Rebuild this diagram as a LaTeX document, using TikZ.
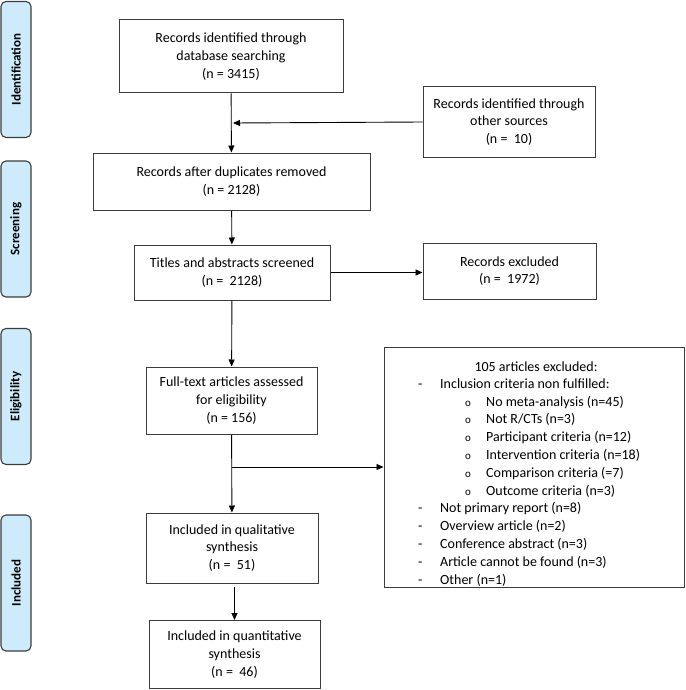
\documentclass[tikz,border=0pt]{standalone}
\usepackage{fontspec}
\setmainfont{Carlito}
\usetikzlibrary{arrows.meta}
\definecolor{stagefill}{HTML}{CDEBFB}
\definecolor{boxline}{HTML}{3C3C3C}
\begin{document}
\begin{tikzpicture}[x=1pt,y=-1pt,
    flowbox/.style={draw=boxline,line width=1pt,align=center,inner sep=0pt,
      font=\fontsize{14}{17.7}\selectfont},
    stagebar/.style={draw=boxline,fill=stagefill,line width=1.1pt,rounded corners=5pt,
      minimum width=136pt,minimum height=30pt,rotate=90,
      font=\fontsize{13}{15}\selectfont\bfseries},
    flowarrow/.style={line width=0.9pt,-{Triangle[length=7pt,width=6pt]}}]
  \useasboundingbox (0,0) rectangle (685,690);
  {
  % Marking the stages by bars
  \node [stagebar] (ident) at (16,69.5) {Identification};%
  \node [stagebar] (screen) at (16,229) {Screening};%
  \node [stagebar] (elig) at (16,396.5) {Eligibility};%
  \node [stagebar] (incl) at (16,583) {Included};%

  % Marking box database
  \node [flowbox,minimum width=224pt,minimum height=73pt] (dbase) at (231,56.5)
    {Records identified through\\database searching\\(n = 3415)};%

  % Marking box other sources
  \node [flowbox,minimum width=172pt,minimum height=70pt] (other) at (509,122)
    {Records identified through\\other sources\\(n =\ \ 10)};%

  % Marking box duplicates
  \node [flowbox,minimum width=277pt,minimum height=57pt] (dupl) at (231.5,181.5)
    {Records after duplicates removed\\(n = 2128)};%

  % Marking box screened
  \node [flowbox,minimum width=196pt,minimum height=55pt] (titles) at (232,272.5)
    {Titles and abstracts screened\\(n =\ \ 2128)};%

  % Marking box excluded
  \node [flowbox,minimum width=173pt,minimum height=56pt] (excl) at (509.5,271)
    {Records excluded\\(n =\ \ 1972)};%

  % Marking box full text
  \node [flowbox,minimum width=171pt,minimum height=67pt] (fulltext) at (231.5,400.5)
    {Full-text articles assessed\\for eligibility\\(n = 156)};%

  % Marking box qualitative
  \node [flowbox,minimum width=172pt,minimum height=70pt] (qual) at (232,548)
    {Included in qualitative\\synthesis\\(n =\ \ 51)};%

  % Marking box quantitative
  \node [flowbox,minimum width=171pt,minimum height=68pt] (quant) at (234.5,654.5)
    {Included in quantitative\\synthesis\\(n =\ \ 46)};%

  % Marking box articles excluded
  \node [flowbox,minimum width=300pt,minimum height=240pt] (artexcl) at (534,467) {};%
  \node [font=\fontsize{14}{17.8}\selectfont] (arthead) at (536,366.7) {105 articles excluded:};%
  \node [anchor=north west,inner sep=0pt,font=\fontsize{14}{17.8}\selectfont] (artlist) at (418,375.6)
    {\begin{tabular}{@{}p{22pt}@{}l@{}}
     - & Inclusion criteria non fulfilled:\\
       & \hspace{25pt}\makebox[21pt][l]{\fontsize{11}{11}\selectfont o}No meta-analysis (n=45)\\
       & \hspace{25pt}\makebox[21pt][l]{\fontsize{11}{11}\selectfont o}Not R/CTs (n=3)\\
       & \hspace{25pt}\makebox[21pt][l]{\fontsize{11}{11}\selectfont o}Participant criteria (n=12)\\
       & \hspace{25pt}\makebox[21pt][l]{\fontsize{11}{11}\selectfont o}Intervention criteria (n=18)\\
       & \hspace{25pt}\makebox[21pt][l]{\fontsize{11}{11}\selectfont o}Comparison criteria (=7)\\
       & \hspace{25pt}\makebox[21pt][l]{\fontsize{11}{11}\selectfont o}Outcome criteria (n=3)\\
     - & Not primary report (n=8)\\
     - & Overview article (n=2)\\
     - & Conference abstract (n=3)\\
     - & Article cannot be found (n=3)\\
     - & Other (n=1)
     \end{tabular}};%

  % Drawing arrows
  \coordinate (merge) at (233,123);%
  \coordinate (split) at (232,467);%
  \draw [flowarrow] (dbase) -- (dupl);%
  \draw [flowarrow] (other.west) -- (merge);%
  \draw [flowarrow] (dupl) -- (titles);%
  \draw [flowarrow] (titles.east) -- (excl.west |- titles.east);%
  \draw [flowarrow] (titles) -- (fulltext);%
  \draw [flowarrow] (fulltext) -- (qual);%
  \draw [flowarrow] (split) -- (artexcl.west |- split);%
  \draw [flowarrow] (qual.south -| quant.north) ++(0,3) -- (quant.north);%
  }
\end{tikzpicture}
\end{document}
